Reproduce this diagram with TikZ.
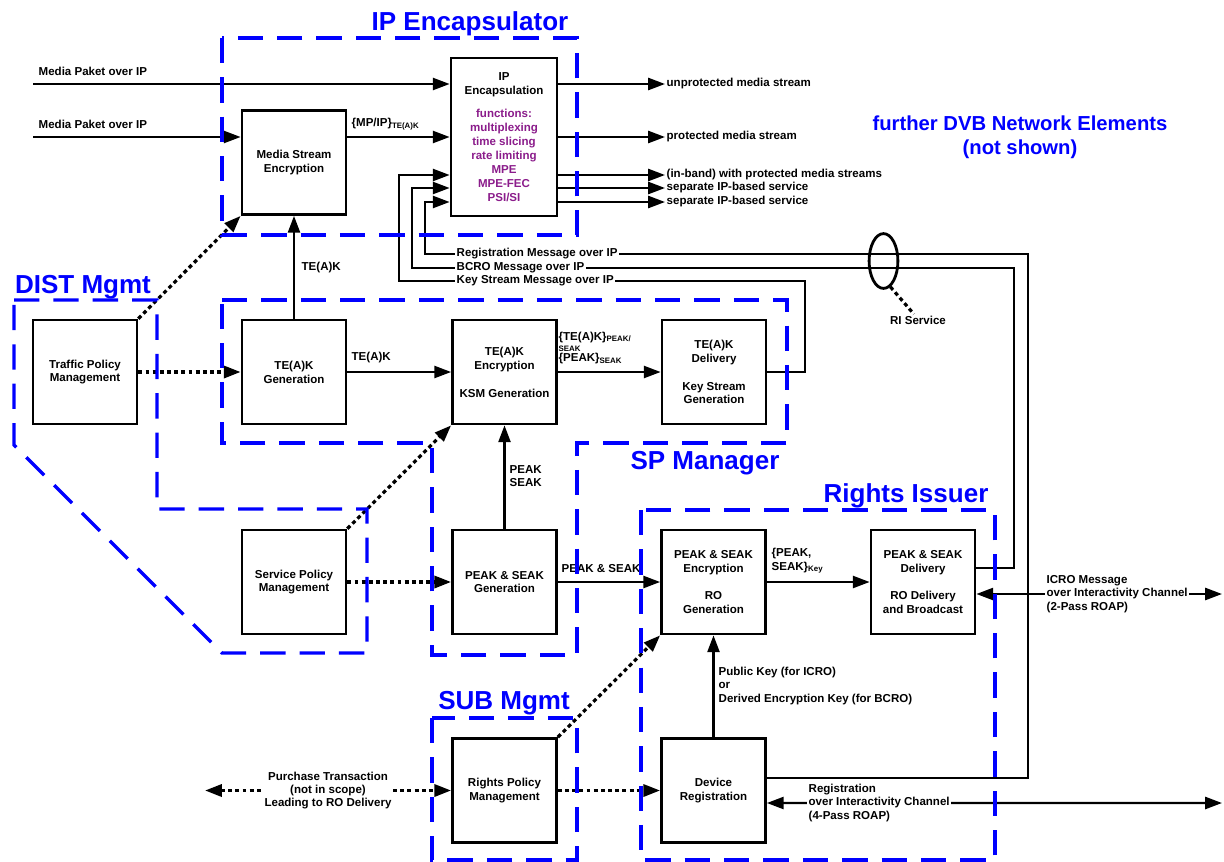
\documentclass[tikz,border=0pt]{standalone}
\usepackage{fontspec}
\setmainfont{Liberation Sans}
\usepackage{tikz}
\usetikzlibrary{arrows.meta,positioning,calc,shapes.geometric}
\definecolor{zoneblue}{HTML}{0000FF}
\definecolor{fnpurple}{HTML}{8B1C8B}
\newcommand{\boxfont}{\fontsize{8.2}{9.9}\selectfont\bfseries}
\newcommand{\lblfont}{\fontsize{8.2}{9.4}\selectfont\bfseries}
\newcommand{\zonefont}{\fontsize{18.5}{20}\selectfont\bfseries}
\newcommand{\dvbfont}{\fontsize{14.4}{17}\selectfont\bfseries}
\newcommand{\subtxt}[1]{\textsubscript{\fontsize{5.6}{6}\selectfont #1}}
\newcommand{\fnl}[1]{\textcolor{fnpurple}{#1}}
\tikzset{
  box/.style={draw, line width=1.9pt, fill=white, align=center,
              minimum width=2.6cm, minimum height=2.6cm, inner sep=2pt,
              font=\boxfont},
  zone/.style={draw=zoneblue, line width=2.4pt, dash pattern=on 18pt off 10pt},
  zonelbl/.style={text=zoneblue, font=\zonefont, inner sep=1pt},
  flow/.style={-{Triangle[length=4.2mm,width=3mm]}, line width=1.7pt},
  biflow/.style={{Triangle[length=4.2mm,width=3mm]}-{Triangle[length=4.2mm,width=3mm]},
                 line width=1.7pt},
  pol/.style={-{Triangle[length=4.2mm,width=3mm]}, line width=2.3pt,
              dash pattern=on 2.8pt off 2.3pt},
  polbi/.style={{Triangle[length=4.2mm,width=3mm]}-{Triangle[length=4.2mm,width=3mm]},
                line width=2.3pt, dash pattern=on 2.8pt off 2.3pt},
  lbl/.style={font=\lblfont, inner sep=1pt, align=left},
  cut/.style={lbl, fill=white},
}

\begin{document}
\begin{tikzpicture}[x=0.025cm, y=-0.025cm]
\fill[white] (0,0) rectangle (1224,862);
\useasboundingbox (0,0) rectangle (1224,862);

% ------------------------- boxes ----------------------------------------
\node[box] at (294,162.5) (mse) {Media Stream\\Encryption};
\node[box, minimum width=2.65cm, minimum height=3.95cm] at (504,137) (ipenc)
   {IP\\Encapsulation\\[7pt]\fnl{functions:}\\\fnl{multiplexing}\\
    \fnl{time slicing}\\\fnl{rate limiting}\\\fnl{MPE}\\\fnl{MPE-FEC}\\\fnl{PSI/SI}};
\node[box] at (85,372)    (tpm)    {Traffic Policy\\Management};
\node[box] at (294,372)   (tekgen) {TE(A)K\\Generation};
\node[box] at (504.5,372) (tekenc) {TE(A)K\\Encryption\\[9.9pt]KSM Generation};
\node[box] at (714,372)   (tekdel) {TE(A)K\\Delivery\\[9.9pt]Key Stream\\Generation};
\node[box] at (294,582)   (spm)    {Service Policy\\Management};
\node[box] at (504.5,582) (psgen)  {PEAK \& SEAK\\Generation};
\node[box] at (713.5,582) (psenc)  {PEAK \& SEAK\\Encryption\\[9.9pt]RO\\Generation};
\node[box] at (923,582)   (psdel)  {PEAK \& SEAK\\Delivery\\[9.9pt]RO Delivery\\and Broadcast};
\node[box] at (504.5,790.5) (rpm)  {Rights Policy\\Management};
\node[box] at (713.5,790.5) (devreg) {Device\\Registration};

% ------------------------- media streams --------------------------------
\coordinate (in1) at (33,84);
\coordinate (in2) at (33,137);
\draw[flow] (in1) -- (ipenc.west|-in1);
\draw[flow] (in2) -- (mse.west|-in2);
\draw[flow] (mse.east|-in2) -- (ipenc.west|-in2);
\node[lbl, anchor=west] at (37,71)  (mp1)  {Media Paket over IP};
\node[lbl, anchor=west] at (37,124) (mp2)  {Media Paket over IP};
\node[lbl, anchor=west] at (350,124) (mpip) {\{MP/IP\}\subtxt{TE(A)K}};
\foreach \y/\nm/\txt in {84/o1/{unprotected media stream},
    137/o2/{protected media stream},
    175/o3/{(in-band) with protected media streams},
    188/o4/{separate IP-based service}, 202/o5/{separate IP-based service}}{
  \node[lbl, anchor=west] at (665,\y) (\nm) {\txt};
  \draw[flow] (ipenc.east|-\nm.west) -- (\nm.west);
}

% ------------------------- key and rights flow --------------------------
\draw[flow] (tekgen) -- (mse);
\node[lbl, anchor=west] at (300,268) (l1) {TE(A)K};
\draw[flow] (tekgen) -- (tekenc);
\node[lbl, anchor=south west] at (350,365) (l2) {TE(A)K};
\draw[flow] (tekenc) -- (tekdel);
\node[lbl, anchor=west] at (557,348) (l3)
   {\{TE(A)K\}\subtxt{PEAK/}\\[-1.2pt]{\fontsize{5.6}{6}\selectfont SEAK}\\[-2.2pt]
    \{PEAK\}\subtxt{SEAK}};
\draw[flow] (psgen) -- (tekenc);
\node[lbl, anchor=west] at (508,476) (l4) {PEAK\\SEAK};
\draw[flow] (psgen) -- (psenc);
\node[lbl, anchor=south west] at (560,574) (l5) {PEAK \& SEAK};
\draw[flow] (psenc) -- (psdel);
\node[lbl, anchor=west] at (770,561) (l6) {\{PEAK,\\SEAK\}\subtxt{Key}};
\draw[flow] (devreg) -- (psenc);
\node[lbl, anchor=west] at (717,686) (l7)
   {Public Key (for ICRO)\\or\\Derived Encryption Key (for BCRO)};

% ------------------------- messages over IP -----------------------------
\coordinate (ksR) at (805,281);  \coordinate (ksL) at (399,175);
\coordinate (bcR) at (1014,268); \coordinate (bcL) at (412,188);
\coordinate (rgR) at (1028,254); \coordinate (rgL) at (425,202);
\draw[flow] (tekdel.east) -| (ksR) -| (ksL) -- (ipenc.west|-ksL);
\draw[flow] ($(psdel.east)+(0,-14)$) -| (bcR) -| (bcL) -- (ipenc.west|-bcL);
\draw[flow] ($(devreg.east)+(0,-12.5)$) -| (rgR) -| (rgL) -- (ipenc.west|-rgL);
\node[cut, anchor=west] at (455,254) (rgmsg) {Registration Message over IP};
\node[cut, anchor=west] at (455,268) (bcmsg) {BCRO Message over IP};
\node[cut, anchor=west] at (455,281) (ksmsg) {Key Stream Message over IP};

\node[draw, ellipse, line width=2pt, minimum width=0.72cm, minimum height=1.37cm,
      inner sep=0pt] at (883.5,261) (risvc) {};
\node[lbl] at (918,320) (rilbl) {RI Service};
\draw[line width=2.3pt, dash pattern=on 2.8pt off 2.3pt] (risvc.-75) -- (rilbl.125);

% ------------------------- interactivity channel ------------------------
\coordinate (icroR) at (1222,594);
\draw[biflow] ($(psdel.east)+(0,12)$) -- (icroR);
\node[cut, anchor=west] at (1045,594) (icro)
   {ICRO Message\\over Interactivity Channel\\(2-Pass ROAP)};
\coordinate (regR) at (1222,803);
\draw[biflow] ($(devreg.east)+(0,12.5)$) -- (regR);
\node[cut, anchor=west] at (807,803) (reg4)
   {Registration\\over Interactivity Channel\\(4-Pass ROAP)};

% ------------------------- policies -------------------------------------
\draw[pol] (tpm.north east) -- (mse.south west);
\draw[pol] (tpm) -- (tekgen);
\draw[pol] (spm.north east) -- (tekenc.south west);
\draw[pol] (spm) -- (psgen);
\draw[pol] (rpm.north east) -- (psenc.south west);
\draw[pol] (rpm) -- (devreg);
\coordinate (purL) at (205,790.5);
\draw[polbi] (purL) -- (rpm.west);
\node[cut, align=center] at (328,790.5) (pur)
   {Purchase Transaction\\(not in scope)\\Leading to RO Delivery};

% ------------------------- zones ----------------------------------------
\draw[zone] (222,38) rectangle (577,235);
\draw[zone] (222,300) -- (787,300) -- (787,443) -- (577,443) -- (577,655)
   -- (432,655) -- (432,443) -- (222,443) -- cycle;
\draw[zone] (14,300) -- (157,300) -- (157,509) -- (367,509) -- (367,653)
   -- (222,653) -- (14,445) -- cycle;
\draw[zone] (641,510) rectangle (995,860);
\draw[zone] (432,718) rectangle (577,860);

\node[zonelbl] at (470,24)  (tip)   {IP Encapsulator};
\node[zonelbl] at (83,287)  (tdist) {DIST Mgmt};
\node[zonelbl] at (705,463) (tsp)   {SP Manager};
\node[zonelbl] at (906,496) (tri)   {Rights Issuer};
\node[zonelbl] at (504,703) (tsub)  {SUB Mgmt};
\node[zonelbl, font=\dvbfont, align=center] at (1020,137) (dvb)
   {further DVB Network Elements\\(not shown)};
\end{tikzpicture}
\end{document}
